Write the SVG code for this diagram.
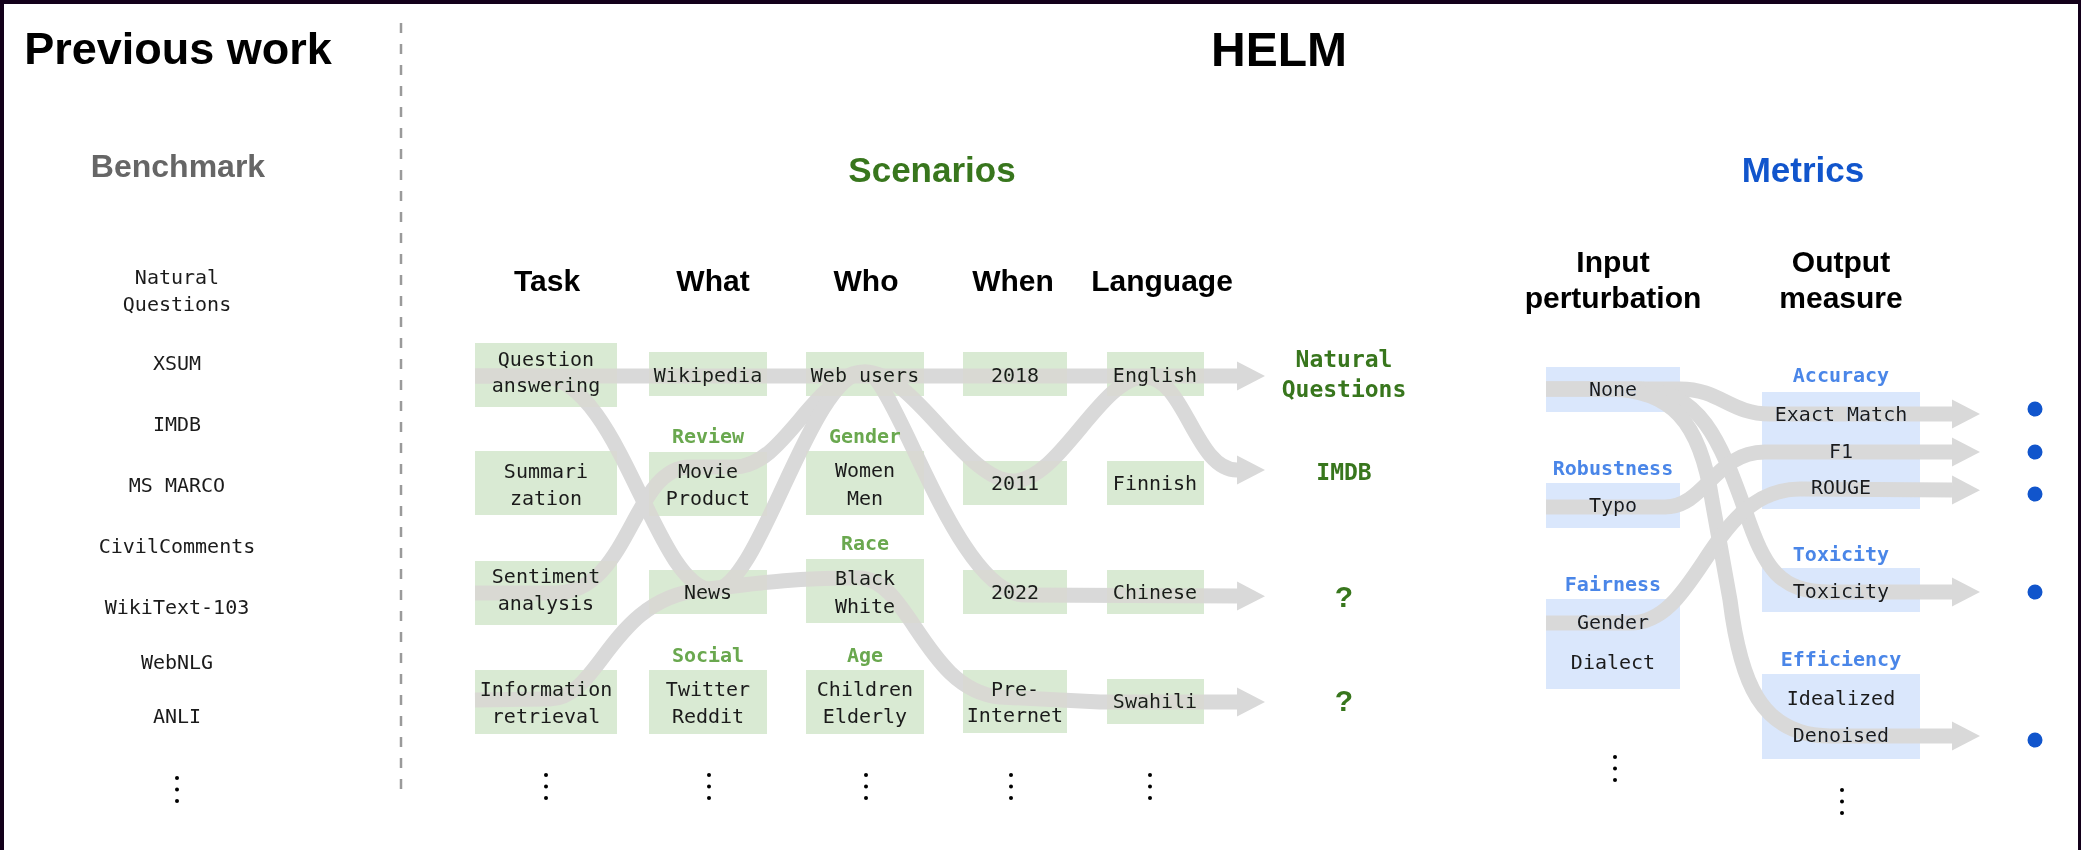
<svg xmlns="http://www.w3.org/2000/svg" width="2081" height="850" viewBox="0 0 2081 850">
  <defs>
    <style>
      .hdr { font-family: "Liberation Sans", Arial, sans-serif; font-weight: bold; text-anchor: middle; fill: #000; }
      .mono { font-family: "DejaVu Sans Mono", "Liberation Mono", monospace; font-size: 20px; text-anchor: middle; fill: #1b1b1b; }
      .sub-g { font-family: "DejaVu Sans Mono", "Liberation Mono", monospace; font-size: 20px; font-weight: bold; text-anchor: middle; fill: #6aa84f; }
      .sub-b { font-family: "DejaVu Sans Mono", "Liberation Mono", monospace; font-size: 20px; font-weight: bold; text-anchor: middle; fill: #4a86e8; }
      .result { font-family: "DejaVu Sans Mono", "Liberation Mono", monospace; font-size: 23px; font-weight: bold; text-anchor: middle; fill: #38761d; }
      .qmark { font-family: "Liberation Sans", Arial, sans-serif; font-size: 30px; font-weight: bold; text-anchor: middle; fill: #38761d; }
      .gbox { fill: #d9ead3; }
      .bbox { fill: #dae7fc; }
      .flow { fill: none; stroke: #d9d9d9; stroke-width: 15; stroke-linecap: butt; stroke-linejoin: round; }
      .arrow { marker-end: url(#head); }
      .dot { fill: #000; }
      .mdot { fill: #1155cc; }
    </style>
    <marker id="head" markerUnits="userSpaceOnUse" markerWidth="28" markerHeight="30" refX="0" refY="15" orient="auto">
      <path d="M0,0.5 L28,15 L0,29.5 Z" fill="#d9d9d9"/>
    </marker>
    <g id="vdots">
      <circle cx="0" cy="0" r="2"/>
      <circle cx="0" cy="11.5" r="2"/>
      <circle cx="0" cy="23" r="2"/>
    </g>
  </defs>

  <!-- canvas and frame -->
  <rect x="0" y="0" width="2081" height="850" fill="#ffffff"/>
  <rect x="0" y="0" width="2081" height="4" fill="#13001a"/>
  <rect x="0" y="0" width="4" height="850" fill="#13001a"/>
  <rect x="2078" y="0" width="3" height="850" fill="#13001a"/>

  <!-- divider between the two halves -->
  <line x1="401" y1="23" x2="401" y2="800" stroke="#9a9a9a" stroke-width="2.5" stroke-dasharray="10 11"/>

  <!-- titles -->
  <g id="titles">
    <text class="hdr" x="178" y="64" font-size="45">Previous work</text>
    <text class="hdr" x="1279" y="66" font-size="48">HELM</text>
    <text class="hdr" x="178" y="177" font-size="32" style="fill:#666666">Benchmark</text>
    <text class="hdr" x="932" y="182" font-size="35" style="fill:#38761d">Scenarios</text>
    <text class="hdr" x="1803" y="182" font-size="35" style="fill:#1155cc">Metrics</text>
  </g>

  <!-- benchmark list -->
  <g id="benchmarks" class="mono" style="fill:#111">
    <text class="mono" x="177" y="284">Natural</text>
    <text class="mono" x="177" y="311">Questions</text>
    <text class="mono" x="177" y="370">XSUM</text>
    <text class="mono" x="177" y="431">IMDB</text>
    <text class="mono" x="177" y="492">MS MARCO</text>
    <text class="mono" x="177" y="553">CivilComments</text>
    <text class="mono" x="177" y="614">WikiText-103</text>
    <text class="mono" x="177" y="669">WebNLG</text>
    <text class="mono" x="177" y="723">ANLI</text>
    <use href="#vdots" x="177" y="778" class="dot"/>
  </g>

  <!-- column headers -->
  <g id="column-headers">
    <text class="hdr" x="547" y="291" font-size="30">Task</text>
    <text class="hdr" x="713" y="291" font-size="30">What</text>
    <text class="hdr" x="866" y="291" font-size="30">Who</text>
    <text class="hdr" x="1013" y="291" font-size="30">When</text>
    <text class="hdr" x="1162" y="291" font-size="30">Language</text>
    <text class="hdr" x="1613" y="272" font-size="30">Input</text>
    <text class="hdr" x="1613" y="308" font-size="30">perturbation</text>
    <text class="hdr" x="1841" y="272" font-size="30">Output</text>
    <text class="hdr" x="1841" y="308" font-size="30">measure</text>
  </g>

  <!-- Task column -->
  <g id="task-qa"><rect class="gbox" x="475" y="343" width="142" height="64"/>
    <text class="mono" x="546" y="366">Question</text><text class="mono" x="546" y="392">answering</text></g>
  <g id="task-summarization"><rect class="gbox" x="475" y="451" width="142" height="64"/>
    <text class="mono" x="546" y="478">Summari</text><text class="mono" x="546" y="505">zation</text></g>
  <g id="task-sentiment"><rect class="gbox" x="475" y="561" width="142" height="64"/>
    <text class="mono" x="546" y="583">Sentiment</text><text class="mono" x="546" y="610">analysis</text></g>
  <g id="task-ir"><rect class="gbox" x="475" y="670" width="142" height="64"/>
    <text class="mono" x="546" y="696">Information</text><text class="mono" x="546" y="723">retrieval</text></g>
  <use href="#vdots" x="546" y="775" class="dot"/>

  <!-- What column -->
  <g id="what-wikipedia"><rect class="gbox" x="649" y="352" width="118" height="44"/>
    <text class="mono" x="708" y="382">Wikipedia</text></g>
  <g id="what-review"><text class="sub-g" x="708" y="443">Review</text>
    <rect class="gbox" x="649" y="452" width="118" height="64"/>
    <text class="mono" x="708" y="478">Movie</text><text class="mono" x="708" y="505">Product</text></g>
  <g id="what-news"><rect class="gbox" x="649" y="570" width="118" height="44"/>
    <text class="mono" x="708" y="599">News</text></g>
  <g id="what-social"><text class="sub-g" x="708" y="662">Social</text>
    <rect class="gbox" x="649" y="670" width="118" height="64"/>
    <text class="mono" x="708" y="696">Twitter</text><text class="mono" x="708" y="723">Reddit</text></g>
  <use href="#vdots" x="709" y="775" class="dot"/>

  <!-- Who column -->
  <g id="who-web"><rect class="gbox" x="806" y="352" width="118" height="44"/>
    <text class="mono" x="865" y="382">Web users</text></g>
  <g id="who-gender"><text class="sub-g" x="865" y="443">Gender</text>
    <rect class="gbox" x="806" y="451" width="118" height="64"/>
    <text class="mono" x="865" y="477">Women</text><text class="mono" x="865" y="505">Men</text></g>
  <g id="who-race"><text class="sub-g" x="865" y="550">Race</text>
    <rect class="gbox" x="806" y="559" width="118" height="64"/>
    <text class="mono" x="865" y="585">Black</text><text class="mono" x="865" y="613">White</text></g>
  <g id="who-age"><text class="sub-g" x="865" y="662">Age</text>
    <rect class="gbox" x="806" y="670" width="118" height="64"/>
    <text class="mono" x="865" y="696">Children</text><text class="mono" x="865" y="723">Elderly</text></g>
  <use href="#vdots" x="866" y="775" class="dot"/>

  <!-- When column -->
  <g id="when-2018"><rect class="gbox" x="963" y="352" width="104" height="44"/>
    <text class="mono" x="1015" y="382">2018</text></g>
  <g id="when-2011"><rect class="gbox" x="963" y="461" width="104" height="44"/>
    <text class="mono" x="1015" y="490">2011</text></g>
  <g id="when-2022"><rect class="gbox" x="963" y="570" width="104" height="44"/>
    <text class="mono" x="1015" y="599">2022</text></g>
  <g id="when-pre-internet"><rect class="gbox" x="963" y="670" width="104" height="63"/>
    <text class="mono" x="1015" y="696">Pre-</text><text class="mono" x="1015" y="722">Internet</text></g>
  <use href="#vdots" x="1011" y="775" class="dot"/>

  <!-- Language column -->
  <g id="lang-english"><rect class="gbox" x="1107" y="352" width="97" height="44"/>
    <text class="mono" x="1155" y="382">English</text></g>
  <g id="lang-finnish"><rect class="gbox" x="1107" y="461" width="97" height="44"/>
    <text class="mono" x="1155" y="490">Finnish</text></g>
  <g id="lang-chinese"><rect class="gbox" x="1107" y="570" width="97" height="44"/>
    <text class="mono" x="1155" y="599">Chinese</text></g>
  <g id="lang-swahili"><rect class="gbox" x="1107" y="679" width="97" height="45"/>
    <text class="mono" x="1155" y="708">Swahili</text></g>
  <use href="#vdots" x="1150" y="775" class="dot"/>

  <!-- resulting scenarios -->
  <g id="result-nq"><text class="result" x="1344" y="367">Natural</text><text class="result" x="1344" y="397">Questions</text></g>
  <g id="result-imdb"><text class="result" x="1344" y="480">IMDB</text></g>
  <g id="result-q1"><text class="qmark" x="1344" y="607">?</text></g>
  <g id="result-q2"><text class="qmark" x="1344" y="711">?</text></g>

  <!-- Input perturbation column -->
  <g id="in-none"><rect class="bbox" x="1546" y="367" width="134" height="45"/>
    <text class="mono" x="1613" y="396">None</text></g>
  <g id="in-robustness"><text class="sub-b" x="1613" y="475">Robustness</text>
    <rect class="bbox" x="1546" y="483" width="134" height="45"/>
    <text class="mono" x="1613" y="512">Typo</text></g>
  <g id="in-fairness"><text class="sub-b" x="1613" y="591">Fairness</text>
    <rect class="bbox" x="1546" y="599" width="134" height="90"/>
    <text class="mono" x="1613" y="629">Gender</text><text class="mono" x="1613" y="669">Dialect</text></g>
  <use href="#vdots" x="1615" y="757" class="dot"/>

  <!-- Output measure column -->
  <g id="out-accuracy"><text class="sub-b" x="1841" y="382">Accuracy</text>
    <rect class="bbox" x="1762" y="392" width="158" height="117"/>
    <text class="mono" x="1841" y="421">Exact Match</text>
    <text class="mono" x="1841" y="458">F1</text>
    <text class="mono" x="1841" y="494">ROUGE</text></g>
  <g id="out-toxicity"><text class="sub-b" x="1841" y="561">Toxicity</text>
    <rect class="bbox" x="1762" y="568" width="158" height="44"/>
    <text class="mono" x="1841" y="598">Toxicity</text></g>
  <g id="out-efficiency"><text class="sub-b" x="1841" y="666">Efficiency</text>
    <rect class="bbox" x="1762" y="674" width="158" height="85"/>
    <text class="mono" x="1841" y="705">Idealized</text>
    <text class="mono" x="1841" y="742">Denoised</text></g>
  <use href="#vdots" x="1842" y="790" class="dot"/>

  <!-- metric outputs -->
  <g id="metric-values">
    <circle class="mdot" cx="2035" cy="409" r="7.5"/>
    <circle class="mdot" cx="2035" cy="452" r="7.5"/>
    <circle class="mdot" cx="2035" cy="494" r="7.5"/>
    <circle class="mdot" cx="2035" cy="592" r="7.5"/>
    <circle class="mdot" cx="2035" cy="740" r="7.5"/>
  </g>

  <!-- flows; darken blending keeps the box labels readable on top of the bands -->
  <g id="connectors" style="mix-blend-mode:darken">
    <path class="flow arrow" d="M475,376 H1237"/>
    <path class="flow arrow" d="M475,593 H555 C630,593 632,467 690,467 L735,467 C785,467 815,372 865,372 C915,372 965,481 1013,481 C1060,481 1100,377 1145,377 C1185,377 1195,470 1237,470"/>
    <path class="flow arrow" d="M475,376 H540 C620,376 655,590 713,590 C760,590 810,372 865,372 C895,372 955,595 1025,595 L1237,596"/>
    <path class="flow arrow" d="M475,700 L550,699 C600,698 610,600 700,590 C750,584 800,577 860,578 C910,580 925,690 1000,697 L1100,702 H1237"/>

    <path class="flow arrow" d="M1546,389 H1680 C1720,389 1730,414 1770,414 H1952"/>
    <path class="flow arrow" d="M1546,389 H1640 C1700,391 1720,440 1745,510 C1765,570 1780,592 1830,592 H1952"/>
    <path class="flow arrow" d="M1546,389 H1610 C1670,390 1700,420 1712,500 L1730,600 C1740,680 1760,736 1830,736 H1952"/>
    <path class="flow arrow" d="M1546,507 H1665 C1705,507 1715,452 1765,452 H1952"/>
    <path class="flow arrow" d="M1546,623 H1630 C1700,623 1710,489 1800,489 L1952,490"/>
  </g>
</svg>
